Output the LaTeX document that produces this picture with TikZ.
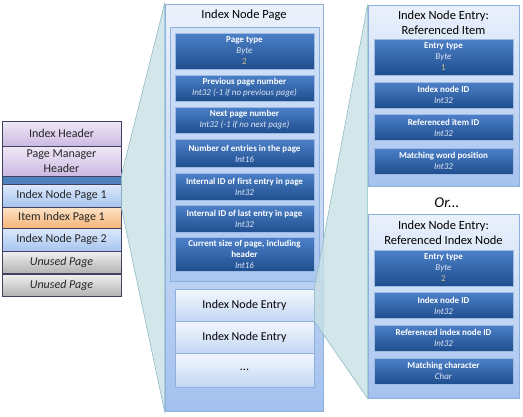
\documentclass[tikz,border=0pt]{standalone}
\usepackage{fontspec}
\setmainfont{Carlito}
\usepackage{xcolor}
\usetikzlibrary{positioning, shadows}

\definecolor{fieldtop}{HTML}{4C80C8}
\definecolor{fieldbot}{HTML}{1F4E8E}
\definecolor{typecol}{HTML}{DCE6F4}
\definecolor{valcol}{HTML}{C9C08F}
\definecolor{panelline}{HTML}{8EB0DC}
\definecolor{paneltop}{HTML}{EAF1FB}
\definecolor{panelbot}{HTML}{A4C1EE}
\definecolor{holdtop}{HTML}{D4E2F8}
\definecolor{holdbot}{HTML}{A9C6F1}
\definecolor{entrytop}{HTML}{F3F7FD}
\definecolor{entrybot}{HTML}{C3D7F4}
\definecolor{wedgefill}{HTML}{C8E0E4}
\definecolor{wedgeline}{HTML}{8DBDC7}
\definecolor{stackline}{HTML}{404060}
\definecolor{headtop}{HTML}{EFE9F7}
\definecolor{headbot}{HTML}{CCB8E2}
\definecolor{pagetop}{HTML}{DDE9FB}
\definecolor{pagebot}{HTML}{A7C5F0}
\definecolor{itemtop}{HTML}{FDE4C8}
\definecolor{itembot}{HTML}{F6B47A}
\definecolor{unusedtop}{HTML}{F0F0F0}
\definecolor{unusedbot}{HTML}{B4B4B4}
\definecolor{bandcol}{HTML}{4F81BD}

\tikzset{
  panel/.style={draw=panelline, line width=0.8pt, top color=paneltop, bottom color=panelbot,
    drop shadow={opacity=0.25, shadow xshift=1pt, shadow yshift=-1pt}},
  holder/.style={draw=panelline, line width=0.6pt, top color=holdtop, bottom color=holdbot},
  fieldbox/.style={draw=fieldtop!55!white, line width=0.5pt, top color=fieldtop, bottom color=fieldbot,
    text=white, align=center, minimum width=139pt, inner sep=1pt,
    font=\fontsize{9}{11}\selectfont,
    drop shadow={opacity=0.3, shadow xshift=0.8pt, shadow yshift=-0.8pt}},
  entrybox/.style={draw=panelline, line width=0.6pt, top color=entrytop, bottom color=entrybot,
    minimum width=139pt, font=\fontsize{12}{14}\selectfont},
  title/.style={align=center, font=\fontsize{12.5}{15}\selectfont},
  pagebox/.style={draw=stackline, line width=0.6pt, minimum width=119pt, inner sep=0pt,
    align=center, font=\fontsize{12}{14.5}\selectfont, text=black!85},
  headpage/.style={pagebox, top color=headtop, bottom color=headbot},
  indexpage/.style={pagebox, top color=pagetop, bottom color=pagebot},
  itempage/.style={pagebox, top color=itemtop, bottom color=itembot},
  unusedpage/.style={pagebox, top color=unusedtop, bottom color=unusedbot, font=\fontsize{12}{14.5}\selectfont\itshape},
  zoomwedge/.style={draw=wedgeline, line width=0.6pt, fill=wedgefill, fill opacity=0.8}
}

\begin{document}
\begin{tikzpicture}[x=1pt, y=1pt]
	\useasboundingbox (0,0) rectangle (523,-416);

	% Page layout
	\node[headpage, minimum height=25pt] (idxhead) at (61.5,-133.5) {Index Header};
	\node[headpage, minimum height=30pt] (pmhead) at (61.5,-161) {Page Manager\\Header};
	\node[pagebox, fill=bandcol, minimum height=8pt] (band) at (61.5,-180) {};
	\node[indexpage, minimum height=23pt] (node1) at (61.5,-195.5) {Index Node Page 1};
	\node[itempage, minimum height=21pt] (item1) at (61.5,-217.5) {Item Index Page 1};
	\node[indexpage, minimum height=23pt] (node2) at (61.5,-239.5) {Index Node Page 2};
	\node[unusedpage, minimum height=22pt] (unused1) at (61.5,-262) {Unused Page};
	\node[unusedpage, minimum height=22pt] (unused2) at (61.5,-285) {Unused Page};

	% Index node page
	\node[panel, minimum width=158pt, minimum height=407pt] (midpanel) at (244,-207.5) {};
	\node[title] (midtitle) at (244,-15) {Index Node Page};
	\node[holder, minimum width=149pt, minimum height=254pt] (header) at (244.5,-154) {};

	\node[fieldbox, minimum height=36pt] (pagetype) at (244.5,-51) {\textbf{Page type}\\\textcolor{typecol}{\textit{Byte}}\\\textcolor{valcol}{2}};
	\node[fieldbox, minimum height=26pt] (prevpage) at (244.5,-88) {\textbf{Previous page number}\\\textcolor{typecol}{\textit{Int32 (-1 if no previous page)}}};
	\node[fieldbox, minimum height=26pt] (nextpage) at (244.5,-120) {\textbf{Next page number}\\\textcolor{typecol}{\textit{Int32 (-1 if no next page)}}};
	\node[fieldbox, minimum height=28pt] (count) at (244.5,-153.5) {\textbf{Number of entries in the page}\\\textcolor{typecol}{\textit{Int16}}};
	\node[fieldbox, minimum height=27pt] (firstid) at (244.5,-187) {\textbf{Internal ID of first entry in page}\\\textcolor{typecol}{\textit{Int32}}};
	\node[fieldbox, minimum height=27pt] (lastid) at (244.5,-219) {\textbf{Internal ID of last entry in page}\\\textcolor{typecol}{\textit{Int32}}};
	\node[fieldbox, minimum height=34pt] (pagesize) at (244.5,-254.5) {\textbf{Current size of page, including}\\\textbf{header}\\\textcolor{typecol}{\textit{Int16}}};

	\node[entrybox, minimum height=32pt] (entry1) at (244.5,-305) {Index Node Entry};
	\node[entrybox, minimum height=32pt] (entry2) at (244.5,-337) {Index Node Entry};
	\node[entrybox, minimum height=34pt] (entry3) at (244.5,-370) {...};

	% Entry: referenced item
	\node[panel, minimum width=151pt, minimum height=181pt] (reftop) at (443.5,-95.5) {};
	\node[title] (toptitle) at (443.5,-22.5) {Index Node Entry:\\Referenced Item};
	\node[fieldbox, minimum height=36pt] (toptype) at (443.5,-57) {\textbf{Entry type}\\\textcolor{typecol}{\textit{Byte}}\\\textcolor{valcol}{1}};
	\node[fieldbox, minimum height=26pt] (topnode) at (443.5,-95) {\textbf{Index node ID}\\\textcolor{typecol}{\textit{Int32}}};
	\node[fieldbox, minimum height=26pt] (topitem) at (443.5,-127.5) {\textbf{Referenced item ID}\\\textcolor{typecol}{\textit{Int32}}};
	\node[fieldbox, minimum height=26pt] (topword) at (443.5,-161) {\textbf{Matching word position}\\\textcolor{typecol}{\textit{Int32}}};

	\node[font=\fontsize{15}{17}\selectfont\itshape] (or) at (447,-203) {Or...};

	% Entry: referenced index node
	\node[panel, minimum width=151pt, minimum height=184pt] (refbot) at (443.5,-306) {};
	\node[title] (bottitle) at (443.5,-232.5) {Index Node Entry:\\Referenced Index Node};
	\node[fieldbox, minimum height=36pt] (bottype) at (443.5,-268) {\textbf{Entry type}\\\textcolor{typecol}{\textit{Byte}}\\\textcolor{valcol}{2}};
	\node[fieldbox, minimum height=26pt] (botnode) at (443.5,-305.5) {\textbf{Index node ID}\\\textcolor{typecol}{\textit{Int32}}};
	\node[fieldbox, minimum height=26pt] (botref) at (443.5,-338) {\textbf{Referenced index node ID}\\\textcolor{typecol}{\textit{Int32}}};
	\node[fieldbox, minimum height=26pt] (botchar) at (443.5,-371) {\textbf{Matching character}\\\textcolor{typecol}{\textit{Char}}};

	% Zoom wedges
	\draw[zoomwedge] (band.north east) -- (midpanel.north west) -- (midpanel.south west) -- (node1.south east) -- cycle;
	\draw[zoomwedge] (entry1.north east) -- (reftop.north west) -- (refbot.south west) -- (entry1.south east) -- cycle;
\end{tikzpicture}
\end{document}
